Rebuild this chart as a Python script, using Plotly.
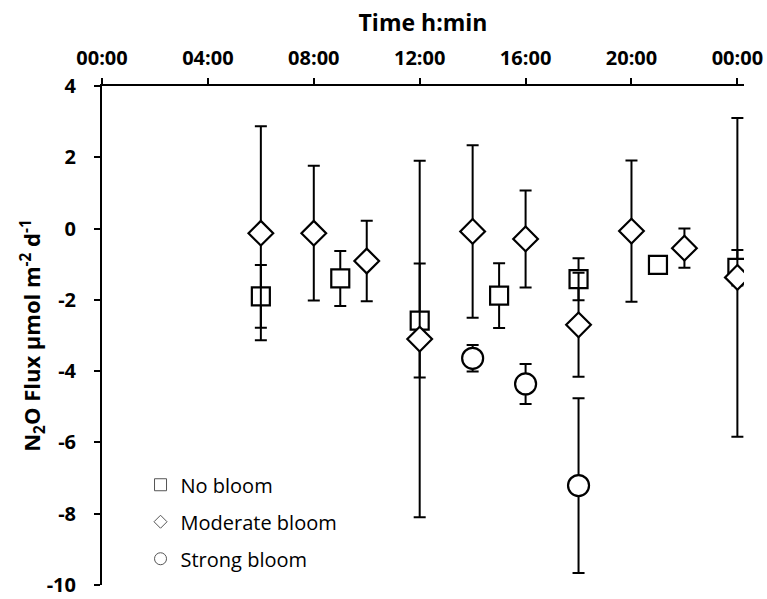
import plotly.graph_objects as go

# Data (hours of day, flux in µmol m-2 d-1, error)
time_no = [6, 9, 12, 15, 18, 21, 24]
flux_no = [-1.90, -1.40, -2.58, -1.88, -1.42, -1.02, -1.10]
err_no = [0.88, 0.77, 1.60, 0.91, 0.59, 0.0, 0.50]

time_mod = [6, 8, 10, 12, 14, 16, 18, 20, 22, 24]
flux_mod = [-0.13, -0.13, -0.91, -3.10, -0.08, -0.29, -2.70, -0.07, -0.55, -1.37]
err_mod = [3.00, 1.89, 1.13, 5.00, 2.42, 1.36, 1.46, 1.98, 0.55, 4.47]

time_str = [14, 16, 18]
flux_str = [-3.64, -4.36, -7.21]
err_str = [0.37, 0.56, 2.45]

tick_vals = [0, 4, 8, 12, 16, 20, 24]
tick_text = ["00:00", "04:00", "08:00", "12:00", "16:00", "20:00", "00:00"]
y_ticks = [4, 2, 0, -2, -4, -6, -8, -10]
y_tick_text = ["4", "2", "0", "-2", "-4", "-6", "-8", "-10"]

series_names = ["No bloom", "Moderate bloom", "Strong bloom"]

FONT = "Open Sans"
fig = go.Figure()

def add_series(x, y, e, symbol, size, name):
    fig.add_trace(go.Scatter(
        x=x, y=y, mode="markers", name=name, showlegend=False,
        marker=dict(symbol=symbol, size=size, color="white",
                    line=dict(color="black", width=2.2)),
        error_y=dict(type="data", array=e, visible=True, color="black",
                     thickness=2, width=6),
    ))

add_series(time_no, flux_no, err_no, "square", 18, series_names[0])
add_series(time_mod, flux_mod, err_mod, "diamond", 19, series_names[1])
add_series(time_str, flux_str, err_str, "circle", 21, series_names[2])

# legend entries (smaller symbols)
for i, (sym, sz) in enumerate([("square", 12), ("diamond", 10), ("circle", 12)]):
    fig.add_trace(go.Scatter(
        x=[None], y=[None], mode="markers", name=series_names[i],
        legendgroup=str(i),
        marker=dict(symbol=sym, size=sz, color="white",
                    line=dict(color="#555555", width=1)),
    ))

fig.update_layout(
    width=767, height=599,
    margin=dict(l=102, r=23, t=86, b=14),
    paper_bgcolor="white", plot_bgcolor="white",
    font=dict(family=FONT, color="black"),
    legend=dict(x=0.06, y=0.24, xanchor="left", yanchor="top",
                font=dict(family=FONT, size=20, color="black"),
                tracegroupgap=8, bgcolor="rgba(0,0,0,0)",
                itemwidth=30),
    showlegend=True,
)

fig.update_xaxes(
    range=[0, 24.25], side="top", automargin=False,
    tickvals=tick_vals, ticktext=tick_text,
    showline=True, linecolor="black", linewidth=2,
    ticks="outside", ticklen=6, tickwidth=2, tickcolor="black",
    showgrid=False, zeroline=False,
    tickfont=dict(family=FONT, size=20, color="black", weight="bold"),
    ticklabelstandoff=5,
    title=dict(text="Time h:min", font=dict(family=FONT, size=23, color="black", weight="bold"),
               standoff=6),
)
fig.update_yaxes(
    range=[-10, 4], tickvals=y_ticks, ticktext=y_tick_text, automargin=False,
    showline=True, linecolor="black", linewidth=2,
    ticks="outside", ticklen=6, tickwidth=2, tickcolor="black",
    showgrid=False, zeroline=False,
    tickfont=dict(family=FONT, size=20, color="black", weight="bold"),
    ticklabelstandoff=14, ticklabeloverflow="allow",
    title=dict(text="N<sub>2</sub>O Flux µmol m<sup>-2</sup> d<sup>-1</sup>",
               font=dict(family=FONT, size=22, color="black", weight="bold"),
               standoff=0),
)

fig.write_html("out.html")
